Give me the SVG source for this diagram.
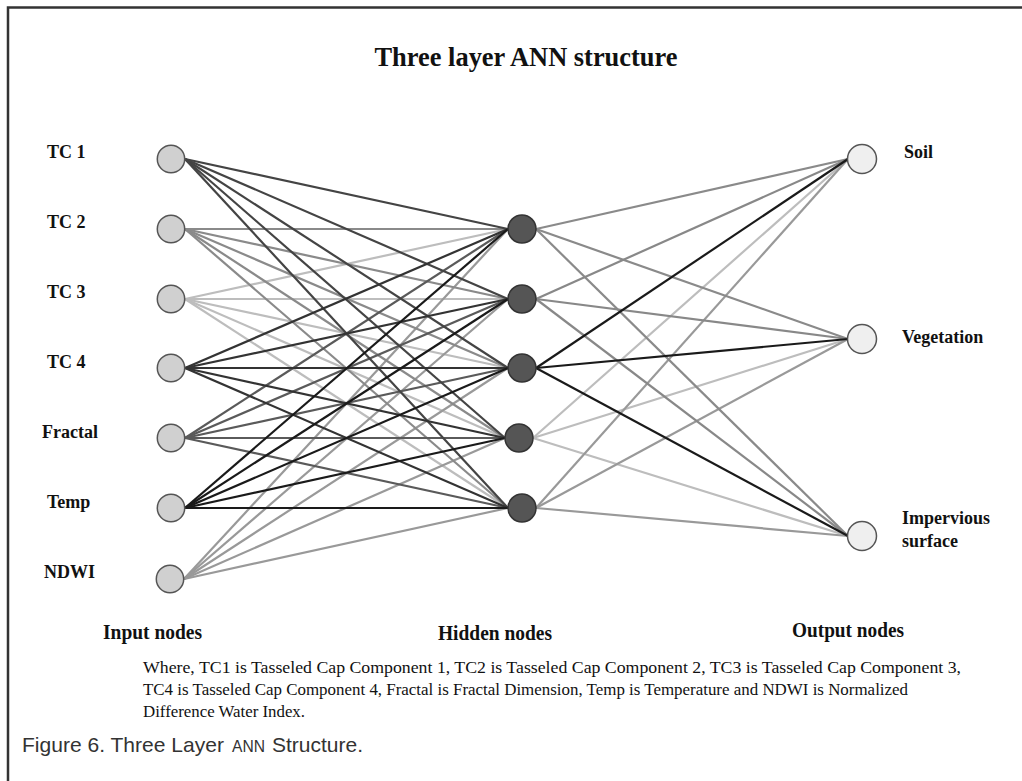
<svg xmlns="http://www.w3.org/2000/svg" width="1022" height="781" viewBox="0 0 1022 781">
<style>
.lbl{font-family:"Liberation Serif","Times New Roman",serif;font-weight:bold;font-size:18px;fill:#111}
.hd{font-family:"Liberation Serif","Times New Roman",serif;font-weight:bold;font-size:21px;fill:#111}
.cap{font-family:"Liberation Serif","Times New Roman",serif;font-size:17px;fill:#111}
.fig{font-family:"Liberation Sans",Arial,sans-serif;font-size:21px;fill:#333}
.in{fill:#d0d0d0;stroke:#555;stroke-width:1.5}
.hid{fill:#555;stroke:#333;stroke-width:1.5}
.out{fill:#efefef;stroke:#555;stroke-width:1.5}
#connectors line{stroke-width:2.2;fill:none}
.c1{stroke:#444}.c2{stroke:#8a8a8a}.c3{stroke:#bdbdbd}.c4{stroke:#333}.c5{stroke:#5a5a5a}.c6{stroke:#1a1a1a}.c7{stroke:#999}
.h1{stroke:#8a8a8a}.h2{stroke:#888}.h3{stroke:#1a1a1a}.h4{stroke:#bdbdbd}.h5{stroke:#999}
</style>
<rect width="1022" height="781" fill="#fff"/>
<path d="M8,781 L8,7.5 L1022,7.5" fill="none" stroke="#333" stroke-width="2.5"/>
<text x="526" y="66" text-anchor="middle" textLength="303" lengthAdjust="spacingAndGlyphs" style="font-family:'Liberation Serif','Times New Roman',serif;font-weight:bold;font-size:27px;fill:#111">Three layer ANN structure</text>
<g id="connectors">
<g class="c3">
<line x1="185" y1="299" x2="508" y2="229"/><line x1="185" y1="299" x2="508" y2="299"/><line x1="185" y1="299" x2="508" y2="368"/><line x1="185" y1="299" x2="505" y2="438"/><line x1="185" y1="299" x2="508" y2="508"/>
</g>
<g class="c7">
<line x1="184" y1="579" x2="508" y2="229"/><line x1="184" y1="579" x2="508" y2="299"/><line x1="184" y1="579" x2="508" y2="368"/><line x1="184" y1="579" x2="505" y2="438"/><line x1="184" y1="579" x2="508" y2="508"/>
</g>
<g class="c2">
<line x1="185" y1="229" x2="508" y2="229"/><line x1="185" y1="229" x2="508" y2="299"/><line x1="185" y1="229" x2="508" y2="368"/><line x1="185" y1="229" x2="505" y2="438"/><line x1="185" y1="229" x2="508" y2="508"/>
</g>
<g class="c5">
<line x1="185" y1="438" x2="508" y2="229"/><line x1="185" y1="438" x2="508" y2="299"/><line x1="185" y1="438" x2="508" y2="368"/><line x1="185" y1="438" x2="505" y2="438"/><line x1="185" y1="438" x2="508" y2="508"/>
</g>
<g class="c1">
<line x1="185" y1="159" x2="508" y2="229"/><line x1="185" y1="159" x2="508" y2="299"/><line x1="185" y1="159" x2="508" y2="368"/><line x1="185" y1="159" x2="505" y2="438"/><line x1="185" y1="159" x2="508" y2="508"/>
</g>
<g class="c4">
<line x1="185" y1="368" x2="508" y2="229"/><line x1="185" y1="368" x2="508" y2="299"/><line x1="185" y1="368" x2="508" y2="368"/><line x1="185" y1="368" x2="505" y2="438"/><line x1="185" y1="368" x2="508" y2="508"/>
</g>
<g class="c6">
<line x1="185" y1="508" x2="508" y2="229"/><line x1="185" y1="508" x2="508" y2="299"/><line x1="185" y1="508" x2="508" y2="368"/><line x1="185" y1="508" x2="505" y2="438"/><line x1="185" y1="508" x2="508" y2="508"/>
</g>
<g class="h4">
<line x1="533" y1="438" x2="848" y2="159"/><line x1="533" y1="438" x2="848" y2="339"/><line x1="533" y1="438" x2="848" y2="536"/>
</g>
<g class="h5">
<line x1="536" y1="508" x2="848" y2="159"/><line x1="536" y1="508" x2="848" y2="339"/><line x1="536" y1="508" x2="848" y2="536"/>
</g>
<g class="h1">
<line x1="536" y1="229" x2="848" y2="159"/><line x1="536" y1="229" x2="848" y2="339"/><line x1="536" y1="229" x2="848" y2="536"/>
</g>
<g class="h2">
<line x1="536" y1="299" x2="848" y2="159"/><line x1="536" y1="299" x2="848" y2="339"/><line x1="536" y1="299" x2="848" y2="536"/>
</g>
<g class="h3">
<line x1="536" y1="368" x2="848" y2="159"/><line x1="536" y1="368" x2="848" y2="339"/><line x1="536" y1="368" x2="848" y2="536"/>
</g>
</g>
<g id="in-tc1"><circle class="in" cx="171" cy="159" r="13.7"/><text class="lbl" x="47" y="158">TC 1</text></g>
<g id="in-tc2"><circle class="in" cx="171" cy="229" r="13.7"/><text class="lbl" x="47" y="228">TC 2</text></g>
<g id="in-tc3"><circle class="in" cx="171" cy="299" r="13.7"/><text class="lbl" x="47" y="298">TC 3</text></g>
<g id="in-tc4"><circle class="in" cx="171" cy="368" r="13.7"/><text class="lbl" x="47" y="368">TC 4</text></g>
<g id="in-fractal"><circle class="in" cx="171" cy="438" r="13.7"/><text class="lbl" x="42" y="438">Fractal</text></g>
<g id="in-temp"><circle class="in" cx="171" cy="508" r="13.7"/><text class="lbl" x="47" y="508">Temp</text></g>
<g id="in-ndwi"><circle class="in" cx="170" cy="579" r="13.7"/><text class="lbl" x="44" y="578">NDWI</text></g>
<g id="hid-1"><circle class="hid" cx="522" cy="229" r="14"/></g>
<g id="hid-2"><circle class="hid" cx="522" cy="299" r="14"/></g>
<g id="hid-3"><circle class="hid" cx="522" cy="368" r="14"/></g>
<g id="hid-4"><circle class="hid" cx="519" cy="438" r="14"/></g>
<g id="hid-5"><circle class="hid" cx="522" cy="508" r="14"/></g>
<g id="out-soil"><circle class="out" cx="862" cy="159" r="14.5"/><text class="lbl" x="904" y="158">Soil</text></g>
<g id="out-veg"><circle class="out" cx="862" cy="339" r="14.5"/><text class="lbl" x="902" y="343">Vegetation</text></g>
<g id="out-imp"><circle class="out" cx="862" cy="536" r="14.5"/><text class="lbl" x="902" y="524">Impervious</text><text class="lbl" x="902" y="547">surface</text></g>
<text class="hd" x="103" y="639" textLength="99" lengthAdjust="spacingAndGlyphs">Input nodes</text>
<text class="hd" x="438" y="640" textLength="114" lengthAdjust="spacingAndGlyphs">Hidden nodes</text>
<text class="hd" x="792" y="637" textLength="112" lengthAdjust="spacingAndGlyphs">Output nodes</text>
<text class="cap" x="143" y="673" textLength="818" lengthAdjust="spacingAndGlyphs">Where, TC1 is Tasseled Cap Component 1, TC2 is Tasseled Cap Component 2, TC3 is Tasseled Cap Component 3,</text>
<text class="cap" x="143" y="695" textLength="765" lengthAdjust="spacingAndGlyphs">TC4 is Tasseled Cap Component 4, Fractal is Fractal Dimension, Temp is Temperature and NDWI is Normalized</text>
<text class="cap" x="143" y="717" textLength="162" lengthAdjust="spacingAndGlyphs">Difference Water Index.</text>
<g id="figure-caption">
<text class="fig" x="22" y="752" textLength="202" lengthAdjust="spacingAndGlyphs">Figure 6. Three Layer</text>
<text class="fig" x="232" y="752" textLength="33" lengthAdjust="spacingAndGlyphs" style="font-size:16px">ANN</text>
<text class="fig" x="272" y="752" textLength="91" lengthAdjust="spacingAndGlyphs">Structure.</text>
</g>
</svg>
